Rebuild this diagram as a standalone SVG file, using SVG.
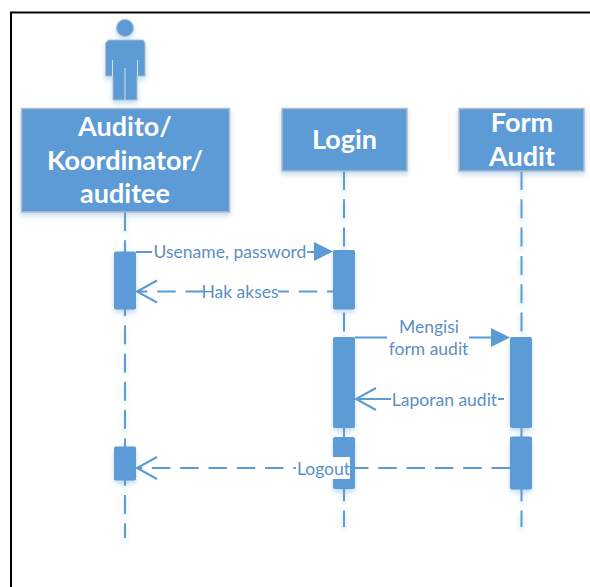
<svg xmlns="http://www.w3.org/2000/svg" width="590" height="587" viewBox="0 0 590 587">
<defs>
<filter id="sh" filterUnits="userSpaceOnUse" x="0" y="0" width="590" height="587"><feDropShadow dx="0" dy="3" stdDeviation="2.5" flood-color="#5b9bd5" flood-opacity="0.35"/></filter>
<marker id="open" markerUnits="userSpaceOnUse" markerWidth="24" markerHeight="26" refX="21" refY="13" orient="auto"><path d="M1 2 L21 13 L1 24" fill="none" stroke="#5b9bd5" stroke-width="2"/></marker>
</defs>
<style>
.box{fill:#5b9bd5;stroke:#b4bcc6;stroke-width:1.5;filter:url(#sh)}
.act{fill:#5b9bd5;stroke:#5b9bd5;stroke-width:1;filter:url(#sh)}
.life{fill:none;stroke:#5b9bd5;stroke-width:2;stroke-dasharray:19 9.300;filter:url(#sh)}
.msg{fill:none;stroke:#5b9bd5;stroke-width:2}
.dash{stroke-dasharray:18.500 9.800}
.tt{font-family:Lato,"Open Sans",sans-serif;font-weight:700;font-size:27px;fill:#fff;text-anchor:middle}
.lb{font-family:Lato,"Open Sans",sans-serif;font-size:17.500px;fill:#5b8fc4;text-anchor:middle}
.tick{fill:#5b9bd5}
</style>
<rect width="590" height="587" fill="#fff"/>
<path d="M11 587V12.500H590" fill="none" stroke="#000" stroke-width="2"/>

<g id="connectors">
<path class="life" d="M125 212V538"/>
<path class="life" d="M344 171V527"/>
<path class="life" d="M521.500 171V527"/>
<path class="msg" d="M136 252H314"/>
<path class="tick" d="M314 242L333 251.500L314 261Z"/>
<path class="msg dash" stroke-dashoffset="12.500" d="M333 291.500H137" marker-end="url(#open)"/>
<path class="msg" d="M355 337.500H491"/>
<path class="tick" d="M491 328L510 337.500L491 347Z"/>
<path class="msg" d="M504 399H356" marker-end="url(#open)"/>
</g>

<g id="actor">
<circle cx="125" cy="28" r="8.500" fill="#5b9bd5" stroke="#b4bcc6" filter="url(#sh)"/>
<path d="M108.500 40H143L145 43V76H137V100H113V76H105.500V43Z" fill="#5b9bd5" stroke="#b4bcc6" filter="url(#sh)"/>
<path d="M112.500 60V76M125 68V100M137.500 60V76" stroke="#d5e2f0" fill="none"/>
</g>
<g id="node-auditor"><rect class="box" x="21.500" y="108.500" width="208" height="103.500"/>
<text class="tt" x="125" y="136">Audito/</text><text class="tt" x="125" y="170">Koordinator/</text><text class="tt" x="125" y="203">auditee</text></g>
<g id="node-login"><rect class="box" x="282" y="108.500" width="125" height="62.500"/><text class="tt" x="344.500" y="149">Login</text></g>
<g id="node-form"><rect class="box" x="459" y="108.500" width="125" height="62.500"/><text class="tt" x="522" y="132">Form</text><text class="tt" x="522" y="166">Audit</text></g>

<g id="activations">
<rect class="act" x="114.500" y="252" width="21" height="57" rx="1"/>
<rect class="act" x="333.500" y="250.500" width="21" height="58.500" rx="1"/>
<rect class="act" x="333.500" y="337.500" width="21" height="90" rx="1"/>
<rect class="act" x="510.500" y="337.500" width="21" height="90" rx="1"/>
<rect class="act" x="114.500" y="447" width="21" height="33" rx="1"/>
<rect class="act" x="333.500" y="437.500" width="21" height="51" rx="1"/>
<rect class="act" x="510.500" y="437" width="21" height="52" rx="1"/>
</g>

<g id="logout-message">
<path class="msg dash" d="M510 468H137" marker-end="url(#open)"/>
<rect x="296" y="457" width="54" height="22" fill="#fff"/>
</g>

<g id="labels">
<rect x="152" y="240" width="155" height="22" fill="#fff"/><text class="lb" x="230" y="258">Usename, password</text>
<rect x="203" y="282" width="75" height="20" fill="#fff"/><text class="lb" x="240" y="298">Hak akses</text>
<rect x="387" y="318" width="82" height="40" fill="#fff"/><text class="lb" x="429" y="333">Mengisi</text><text class="lb" x="428.500" y="355">form audit</text>
<rect x="391" y="389" width="107" height="20" fill="#fff"/><text class="lb" x="444.500" y="406">Laporan audit</text>
<text class="lb" x="323.500" y="475">Logout</text>
</g>
</svg>
